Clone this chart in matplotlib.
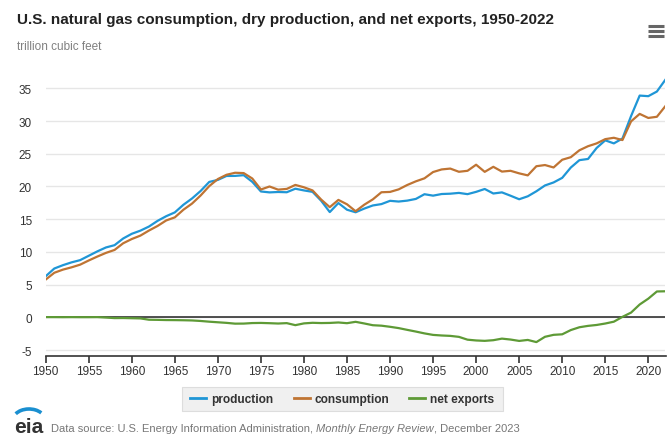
import numpy as np
import matplotlib.pyplot as plt
from matplotlib.patches import Arc, Rectangle
from matplotlib.lines import Line2D

plt.rcParams.update({
    "font.family": ["Liberation Sans", "DejaVu Sans"],
    "font.size": 8.5,
    "axes.unicode_minus": False,
})

years = list(range(1950, 2023))

# trillion cubic feet
production = [
    6.28, 7.46, 7.97, 8.40, 8.74, 9.41, 10.08, 10.68, 11.03, 12.05,
    12.77, 13.25, 13.88, 14.75, 15.46, 16.04, 17.21, 18.17, 19.32, 20.70,
    21.01, 21.61, 21.62, 21.73, 20.71, 19.24, 19.10, 19.16, 19.12, 19.66,
    19.40, 19.18, 17.82, 16.09, 17.47, 16.45, 16.06, 16.62, 17.10, 17.31,
    17.81, 17.70, 17.84, 18.10, 18.82, 18.60, 18.85, 18.90, 19.02, 18.83,
    19.18, 19.62, 18.93, 19.10, 18.59, 18.05, 18.50, 19.27, 20.16, 20.62,
    21.32, 22.90, 24.03, 24.21, 25.89, 27.06, 26.59, 27.34, 30.77, 33.90,
    33.81, 34.52, 36.35,
]
consumption = [
    5.77, 6.81, 7.29, 7.64, 8.05, 8.69, 9.29, 9.85, 10.30, 11.32,
    11.97, 12.49, 13.27, 13.97, 14.81, 15.28, 16.45, 17.39, 18.63, 20.06,
    21.14, 21.79, 22.10, 22.05, 21.22, 19.54, 20.00, 19.52, 19.63, 20.24,
    19.88, 19.40, 18.00, 16.84, 17.95, 17.28, 16.22, 17.21, 18.03, 19.12,
    19.17, 19.56, 20.23, 20.79, 21.25, 22.21, 22.61, 22.74, 22.25, 22.40,
    23.33, 22.24, 23.01, 22.28, 22.40, 22.01, 21.70, 23.10, 23.28, 22.91,
    24.09, 24.48, 25.54, 26.16, 26.59, 27.24, 27.45, 27.10, 29.96, 31.10,
    30.48, 30.66, 32.31,
]
net_exports = [
    0.03, 0.03, 0.02, 0.03, 0.02, 0.02, 0.03, -0.04, -0.12, -0.11,
    -0.14, -0.17, -0.37, -0.39, -0.42, -0.43, -0.45, -0.48, -0.56, -0.67,
    -0.76, -0.85, -0.97, -0.96, -0.88, -0.86, -0.90, -0.95, -0.89, -1.20,
    -0.93, -0.84, -0.88, -0.86, -0.79, -0.90, -0.69, -0.94, -1.21, -1.28,
    -1.45, -1.65, -1.92, -2.18, -2.46, -2.69, -2.78, -2.84, -2.99, -3.42,
    -3.54, -3.60, -3.50, -3.26, -3.40, -3.61, -3.46, -3.79, -2.98, -2.68,
    -2.60, -1.95, -1.52, -1.31, -1.17, -0.95, -0.67, 0.07, 0.72, 1.96,
    2.85, 3.95, 3.98,
]

series = [
    ("production", production, "#1f96d6"),
    ("consumption", consumption, "#bf7433"),
    ("net exports", net_exports, "#5e9a36"),
]
x_ticks = list(range(1950, 2021, 5))
y_ticks = list(range(-5, 36, 5))

W, H = 671, 439
fig = plt.figure(figsize=(W / 100, H / 100), dpi=100)
ax = fig.add_axes([45.7 / W, (H - 356.7) / H, (665.5 - 45.7) / W, (356.7 - 75) / H])

for name, vals, color in series:
    ax.plot(years, vals, color=color, lw=1.6, label=name, zorder=3,
            solid_joinstyle="round")

ax.set_xlim(1950, 2022)
ax.set_ylim(-5.87, 37.2)
ax.set_yticks(y_ticks)
ax.set_xticks(x_ticks)
ax.grid(axis="y", color="#e6e6e6", lw=1)
ax.axhline(0, color="#333333", lw=1.2, zorder=2)
ax.set_axisbelow(True)

for s in ["top", "right", "left"]:
    ax.spines[s].set_visible(False)
ax.spines["bottom"].set_color("#333333")
ax.spines["bottom"].set_linewidth(1.2)
ax.tick_params(axis="y", length=0, pad=10, labelcolor="#333333", labelsize=8.5)
ax.tick_params(axis="x", length=5, width=1.2, color="#333333", pad=2,
               labelcolor="#333333", labelsize=8.5)

# title and subtitle
fig.text(17 / W, 1 - 20 / H, "U.S. natural gas consumption, dry production, and net exports, 1950-2022",
         fontsize=11.0, color="#222222", va="center", ha="left", fontweight="bold")
fig.text(17 / W, 1 - 47 / H, "trillion cubic feet", fontsize=8.5, color="#808080",
         va="center", ha="left")

# menu icon
for yy in [27, 32, 37]:
    fig.add_artist(Line2D([648 / W, 664 / W], [1 - yy / H] * 2, color="#666666",
                          lw=2.2, solid_capstyle="butt"))

# legend
fig.add_artist(Rectangle((182 / W, 1 - 412 / H), (503 - 182) / W, 24 / H,
                         transform=fig.transFigure, facecolor="#f0f0f0",
                         edgecolor="#dddddd", lw=0.8))
handles = [Line2D([], [], color=c, lw=2) for _, _, c in series]
leg = fig.legend(handles, [n for n, _, _ in series], loc="center",
                 bbox_to_anchor=(342.5 / W, 1 - 400 / H), ncol=3, frameon=False,
                 fontsize=8.6, handlelength=1.34, handletextpad=0.42,
                 columnspacing=1.68)
for t in leg.get_texts():
    t.set_color("#333333")
    t.set_fontweight("bold")

# footer with eia logo
lax = fig.add_axes([12 / W, 1 - 436 / H, 32 / W, 28 / H])
lax.set_xlim(0, 32)
lax.set_ylim(0, 28)
lax.axis("off")
lax.add_patch(Arc((17, 15), 32, 22, theta1=30, theta2=155, color="#1a8fd0", lw=2.6))
lax.text(2, 3, "eia", fontsize=15, color="#333333", fontweight="bold",
         va="baseline", ha="left")

src = fig.text(51 / W, 1 - 429 / H, "Data source: U.S. Energy Information Administration, ",
               fontsize=8.0, color="#777777", va="center", ha="left")
fig.canvas.draw()
bb = src.get_window_extent()
it = fig.text(bb.x1 / W, 1 - 429 / H, "Monthly Energy Review", fontsize=8.0,
              color="#777777", va="center", ha="left", style="italic")
bb2 = it.get_window_extent()
fig.text(bb2.x1 / W, 1 - 429 / H, ", December 2023", fontsize=8.0,
         color="#777777", va="center", ha="left")

fig.savefig("out.png", dpi=100)
